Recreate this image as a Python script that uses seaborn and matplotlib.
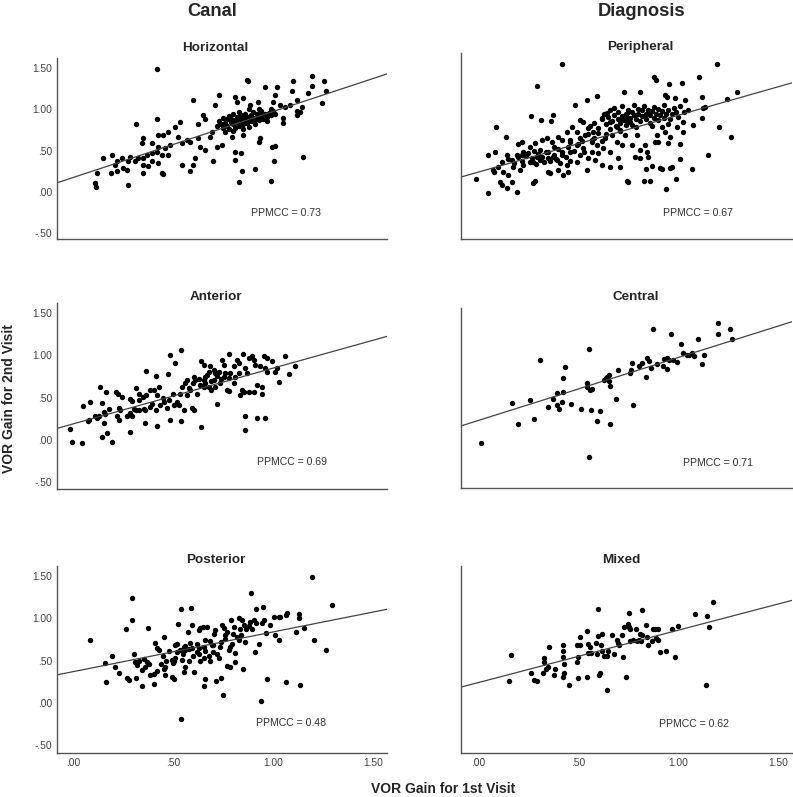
import pandas as pd
import matplotlib.pyplot as plt
import seaborn as sns

sns.set_style("white")
plt.rcParams['font.family'] = ['Liberation Sans', 'DejaVu Sans']

# (1st visit, 2nd visit) pairs
horizontal_pts = [
    (0.42, 1.49), (0.60, 1.12), (0.732, 1.18), (0.71, 1.05), (0.652, 0.93), (0.66, 0.89), (0.627, 0.83),
    (0.42, 0.89), (0.315, 0.83), (0.535, 0.85), (0.51, 0.79), (0.477, 0.73), (0.452, 0.69), (0.427, 0.69),
    (0.352, 0.65), (0.343, 0.59), (0.393, 0.59), (0.427, 0.55), (0.46, 0.53), (0.485, 0.57), (0.527, 0.67),
    (0.543, 0.59), (0.568, 0.63), (0.585, 0.61), (0.627, 0.65), (0.635, 0.55), (0.66, 0.51), (0.685, 0.67),
    (0.693, 0.73), (0.718, 0.55), (0.743, 0.57), (0.702, 0.37), (0.61, 0.41), (0.602, 0.33), (0.585, 0.25),
    (0.543, 0.33), (0.477, 0.45), (0.443, 0.45), (0.418, 0.49), (0.393, 0.47), (0.368, 0.45), (0.352, 0.41),
    (0.327, 0.41), (0.31, 0.37), (0.285, 0.43), (0.277, 0.37), (0.243, 0.41), (0.218, 0.37), (0.197, 0.45),
    (0.148, 0.41), (0.21, 0.33), (0.252, 0.29), (0.268, 0.27), (0.218, 0.25), (0.188, 0.23), (0.118, 0.23),
    (0.11, 0.105), (0.115, 0.065), (0.277, 0.09), (0.352, 0.33), (0.377, 0.31), (0.393, 0.37), (0.427, 0.35),
    (0.443, 0.23), (0.452, 0.22), (0.352, 0.23),
    (1.10, 1.345), (1.193, 1.41), (1.257, 1.345), (1.097, 1.228), (1.193, 1.29), (1.265, 1.225), (1.177, 1.196),
    (1.118, 1.115), (1.243, 1.075), (1.143, 1.035), (1.118, 0.982), (1.085, 1.055), (1.06, 1.035), (1.035, 1.055),
    (1.002, 1.095), (0.988, 1.005), (1.052, 0.893), (1.052, 0.832), (1.118, 0.933), (1.135, 0.974), (1.01, 1.176),
    (0.96, 1.277), (1.018, 1.27), (0.81, 1.155), (0.868, 1.357), (0.877, 1.345), (0.927, 1.095), (0.885, 1.055),
    (0.852, 1.135), (0.818, 1.095), (0.935, 0.65), (0.932, 0.60), (0.852, 0.69), (0.793, 0.67), (0.993, 0.55),
    (1.01, 0.56), (1.007, 0.375), (1.148, 0.428), (0.81, 0.489), (0.84, 0.469), (0.81, 0.388), (0.843, 0.255),
    (0.91, 0.279), (0.832, 0.125), (0.988, 0.137),
    (0.72, 0.80), (0.73, 0.86), (0.74, 0.83), (0.75, 0.90), (0.75, 0.78), (0.76, 0.84), (0.77, 0.88), (0.77, 0.80),
    (0.78, 0.92), (0.78, 0.76), (0.79, 0.85), (0.79, 0.89), (0.80, 0.82), (0.80, 0.95), (0.81, 0.87), (0.81, 0.78),
    (0.82, 0.91), (0.82, 0.84), (0.83, 0.88), (0.83, 0.80), (0.84, 0.93), (0.84, 0.86), (0.85, 0.90), (0.85, 0.82),
    (0.86, 0.95), (0.86, 0.87), (0.87, 0.84), (0.87, 0.91), (0.88, 0.89), (0.88, 0.79), (0.89, 0.93), (0.89, 0.86),
    (0.90, 0.90), (0.90, 0.97), (0.91, 0.88), (0.91, 0.83), (0.92, 0.94), (0.92, 0.90), (0.93, 0.87), (0.94, 0.92),
    (0.94, 0.98), (0.95, 0.89), (0.96, 0.94), (0.97, 0.91), (0.97, 0.86), (0.98, 0.96), (0.99, 0.93), (1.00, 0.98),
    (1.01, 0.95), (0.80, 0.74), (0.85, 0.76), (0.76, 0.73), (0.83, 0.97), (0.88, 1.00), (0.93, 1.01),
]

peripheral_pts = [
    (0.42, 1.547), (0.297, 1.289), (0.73, 1.216), (0.593, 1.168), (0.543, 1.115), (0.485, 1.055), (0.265, 0.921),
    (0.315, 0.873), (0.365, 0.865), (0.373, 0.933), (0.09, 0.792), (0.138, 0.67), (0.218, 0.602), (0.202, 0.578),
    (0.048, 0.448), (0.085, 0.481), (-0.01, 0.154), (0.048, -0.008), (0.197, 0.004), (0.11, 0.125), (0.12, 0.085),
    (0.168, 0.117), (0.143, 0.053), (0.277, 0.105), (0.285, 0.133), (0.077, 0.267), (0.08, 0.238), (0.127, 0.246),
    (0.152, 0.206), (0.102, 0.307), (0.118, 0.368), (0.143, 0.448), (0.168, 0.388), (0.177, 0.307), (0.21, 0.267),
    (0.227, 0.327), (0.218, 0.448), (0.252, 0.469), (0.277, 0.368), (0.293, 0.428), (0.31, 0.509), (0.318, 0.63),
    (0.343, 0.65), (0.368, 0.61), (0.402, 0.67), (0.418, 0.63), (0.352, 0.488), (0.377, 0.428), (0.352, 0.246),
    (0.36, 0.227), (0.402, 0.267), (0.427, 0.206), (0.452, 0.246), (0.443, 0.327), (0.393, 0.388), (0.418, 0.448),
    (0.46, 0.488), (0.493, 0.368), (0.51, 0.448), (0.543, 0.267), (0.552, 0.408), (0.527, 0.53), (0.493, 0.57),
    (0.46, 0.63), (0.443, 0.731), (0.468, 0.792), (0.493, 0.731), (0.527, 0.852), (0.51, 0.873), (0.552, 0.772),
    (0.577, 0.731), (0.568, 0.63), (0.593, 0.57), (0.602, 0.469), (0.585, 0.388), (0.618, 0.327), (0.66, 0.307),
    (0.702, 0.408), (0.71, 0.307), (0.743, 0.133), (0.618, 0.893), (0.643, 0.953), (0.66, 0.852), (0.693, 0.792),
    (0.71, 0.751), (0.668, 0.691), (0.635, 0.65), (0.693, 0.61), (0.718, 0.57), (0.735, 0.691), (0.743, 0.913),
    (0.752, 0.973), (0.718, 0.873), (0.627, 0.53), (0.66, 0.488), (0.51, 0.65), (0.535, 0.691), (0.568, 0.488),
    (0.26, 0.549), (0.285, 0.59), (0.227, 0.488), (0.193, 0.448),
    (1.197, 1.547), (0.88, 1.398), (0.89, 1.358), (0.957, 1.309), (1.018, 1.317), (1.107, 1.39), (0.81, 1.208),
    (0.935, 1.176), (0.943, 1.155), (0.985, 1.143), (1.118, 1.155), (1.293, 1.208), (1.247, 1.123), (1.035, 1.115),
    (1.127, 1.022), (1.135, 1.026), (1.118, 0.893), (1.077, 0.812), (1.027, 0.731), (1.207, 0.792), (1.265, 0.667),
    (1.01, 0.578), (0.952, 0.59), (0.96, 0.67), (0.902, 0.602), (0.885, 0.61), (0.835, 0.57), (0.81, 0.509),
    (0.843, 0.488), (0.852, 0.428), (0.785, 0.428), (0.81, 0.408), (1.148, 0.448), (1.01, 0.40), (1.068, 0.275),
    (0.868, 0.319), (0.91, 0.295), (0.918, 0.275), (0.96, 0.287), (0.968, 0.307), (0.838, 0.275), (0.752, 0.125),
    (0.83, 0.137), (0.86, 0.137), (0.988, 0.154), (0.938, 0.036), (0.768, 0.57), (0.793, 0.691), (0.768, 0.812),
    (0.752, 0.852), (0.918, 0.792), (0.935, 0.731), (0.893, 0.691), (0.993, 0.792), (1.027, 0.852),
    (0.62, 0.88), (0.63, 0.95), (0.64, 0.82), (0.65, 0.91), (0.66, 0.99), (0.67, 0.86), (0.68, 0.93), (0.68, 1.02),
    (0.69, 0.80), (0.70, 0.89), (0.70, 0.97), (0.71, 0.84), (0.72, 0.92), (0.72, 1.04), (0.73, 0.87), (0.74, 0.95),
    (0.74, 0.81), (0.75, 1.00), (0.76, 0.90), (0.76, 0.85), (0.77, 0.97), (0.78, 0.93), (0.78, 1.06), (0.79, 0.88),
    (0.80, 0.95), (0.80, 1.01), (0.81, 0.86), (0.82, 0.92), (0.82, 0.99), (0.83, 1.04), (0.84, 0.89), (0.84, 0.95),
    (0.85, 1.00), (0.86, 0.84), (0.86, 0.93), (0.87, 0.98), (0.88, 1.03), (0.88, 0.90), (0.89, 0.95), (0.90, 0.87),
    (0.90, 1.01), (0.91, 0.93), (0.92, 0.98), (0.93, 1.05), (0.93, 0.90), (0.94, 0.95), (0.95, 1.00), (0.96, 0.88),
    (0.97, 0.94), (0.98, 1.02), (0.99, 0.97), (1.00, 0.91), (1.01, 1.04), (1.03, 0.97), (1.05, 1.00), (0.58, 0.84),
    (0.60, 0.78), (0.56, 0.80), (0.66, 0.76), (0.71, 0.74), (0.79, 0.79), (0.87, 0.80), (0.95, 0.82),
    (0.15, 0.40), (0.18, 0.35), (0.20, 0.42), (0.22, 0.38), (0.24, 0.44), (0.26, 0.36), (0.27, 0.41), (0.29, 0.34),
    (0.30, 0.46), (0.31, 0.39), (0.32, 0.43), (0.33, 0.36), (0.34, 0.48), (0.35, 0.41), (0.36, 0.37), (0.38, 0.45),
    (0.39, 0.40), (0.40, 0.52), (0.41, 0.35), (0.42, 0.48), (0.44, 0.42), (0.45, 0.55), (0.46, 0.38), (0.48, 0.50),
    (0.50, 0.58), (0.52, 0.62), (0.53, 0.48), (0.55, 0.70), (0.57, 0.60), (0.58, 0.66), (0.60, 0.72), (0.62, 0.62),
    (0.64, 0.70), (0.46, 0.60), (0.38, 0.55), (0.28, 0.50),
]

anterior_pts = [
    (0.54, 1.07), (0.483, 1.01), (0.512, 0.91), (0.365, 0.82), (0.415, 0.76), (0.473, 0.78), (0.137, 0.63),
    (0.167, 0.57), (0.217, 0.57), (0.225, 0.54), (0.315, 0.62), (0.328, 0.55), (0.387, 0.59), (0.403, 0.59),
    (0.428, 0.63), (0.367, 0.53), (0.245, 0.51), (0.283, 0.48), (0.295, 0.46), (0.328, 0.47), (0.35, 0.51),
    (0.42, 0.53), (0.45, 0.50), (0.453, 0.45), (0.478, 0.47), (0.50, 0.55), (0.47, 0.38), (0.503, 0.41),
    (0.437, 0.41), (0.417, 0.36), (0.395, 0.42), (0.383, 0.39), (0.353, 0.37), (0.362, 0.35), (0.328, 0.36),
    (0.303, 0.37), (0.317, 0.36), (0.287, 0.32), (0.295, 0.28), (0.27, 0.28), (0.237, 0.35), (0.228, 0.38),
    (0.22, 0.28), (0.228, 0.24), (0.178, 0.37), (0.153, 0.33), (0.162, 0.31), (0.128, 0.28), (0.112, 0.28),
    (0.12, 0.26), (0.087, 0.45), (0.05, 0.40), (0.078, 0.24), (0.073, 0.22), (0.145, 0.44), (0.153, 0.20),
    (0.17, 0.08), (0.145, 0.03), (0.195, -0.02), (-0.005, -0.02), (0.045, -0.03), (-0.013, 0.13), (0.287, 0.10),
    (0.362, 0.20), (0.42, 0.17), (0.487, 0.24), (0.542, 0.23), (0.603, 0.36), (0.595, 0.38), (0.553, 0.36),
    (0.528, 0.41), (0.52, 0.45), (0.57, 0.53), (0.537, 0.55), (0.545, 0.63), (0.562, 0.67), (0.57, 0.71),
    (0.603, 0.75), (0.612, 0.71), (0.62, 0.55), (0.642, 0.15), (0.72, 0.43), (0.653, 0.71), (0.662, 0.67),
    (0.64, 0.93), (0.653, 0.89), (0.687, 0.87), (0.703, 0.83), (0.712, 0.79), (0.67, 0.77), (0.678, 0.81),
    (0.637, 0.65), (0.653, 0.63), (0.678, 0.63), (0.69, 0.59), (0.712, 0.63), (0.737, 0.67), (0.753, 0.75),
    (0.762, 0.79), (0.728, 0.81), (0.745, 0.95), (0.753, 0.89), (0.782, 1.02), (0.803, 0.87), (0.787, 0.79),
    (0.778, 0.73), (0.77, 0.59), (0.778, 0.58), (0.803, 0.67), (0.812, 0.75), (0.837, 0.53), (0.845, 0.59),
    (0.853, 0.57), (0.82, 0.95), (0.828, 0.91), (0.85, 1.02), (0.862, 0.85), (0.87, 0.79), (0.878, 0.97),
    (0.895, 0.99), (0.903, 0.95), (0.862, 0.28), (0.858, 0.12), (0.878, 0.57), (0.903, 0.57), (0.92, 0.26),
    (0.92, 0.65), (0.945, 0.63), (0.945, 0.55), (0.962, 0.26), (0.912, 0.89), (0.937, 0.87), (0.953, 0.99),
    (0.97, 0.97), (0.962, 0.85), (0.97, 0.81), (0.995, 0.93), (1.012, 0.81), (1.028, 0.69), (1.02, 0.85),
    (1.058, 0.99), (1.078, 0.78), (1.108, 0.88), (0.828, 0.79), (0.587, 0.59), (0.703, 0.71),
    (0.60, 0.68), (0.63, 0.72), (0.66, 0.75), (0.69, 0.70), (0.72, 0.76), (0.74, 0.72), (0.58, 0.62),
]

central_pts = [
    (0.015, -0.04), (0.172, 0.44), (0.202, 0.19), (0.26, 0.47), (0.28, 0.25), (0.31, 0.95), (0.348, 0.39),
    (0.377, 0.48), (0.397, 0.56), (0.393, 0.42), (0.407, 0.37), (0.418, 0.45), (0.423, 0.57), (0.427, 0.73),
    (0.435, 0.86), (0.465, 0.43), (0.515, 0.37), (0.543, 0.68), (0.543, 0.63), (0.553, 1.08), (0.553, -0.20),
    (0.56, 0.59), (0.572, 0.60), (0.563, 0.36), (0.593, 0.22), (0.612, 0.34), (0.63, 0.71), (0.638, 0.73),
    (0.647, 0.75), (0.657, 0.77), (0.657, 0.70), (0.66, 0.64), (0.66, 0.19), (0.69, 0.49), (0.702, 0.83),
    (0.76, 0.79), (0.763, 0.83), (0.768, 0.91), (0.777, 0.41), (0.807, 0.87), (0.818, 0.91), (0.838, 0.74),
    (0.847, 0.97), (0.857, 0.94), (0.863, 0.85), (0.877, 1.31), (0.897, 0.90), (0.927, 0.87), (0.93, 0.96),
    (0.943, 0.84), (0.947, 0.97), (0.957, 0.95), (0.965, 1.25), (0.977, 0.95), (0.993, 0.92), (1.015, 1.14),
    (1.023, 1.03), (1.043, 1.01), (1.057, 1.00), (1.072, 1.03), (1.08, 0.99), (1.102, 1.19), (1.122, 0.90),
    (1.13, 1.01), (1.198, 1.38), (1.202, 1.26), (1.26, 1.31), (1.268, 1.19),
]

posterior_pts = [
    (1.195, 1.49), (0.89, 1.30), (0.295, 1.24), (1.295, 1.16), (0.542, 1.11), (0.592, 1.12), (0.915, 1.11),
    (0.948, 1.14), (0.295, 0.98), (0.265, 0.88), (0.375, 0.89), (0.087, 0.75), (1.207, 0.75), (1.267, 0.63),
    (0.523, 0.93), (0.453, 0.78), (0.412, 0.71), (0.42, 0.65), (0.428, 0.63), (0.195, 0.56), (0.158, 0.47),
    (0.208, 0.42), (0.228, 0.35), (0.167, 0.25), (0.27, 0.29), (0.278, 0.27), (0.307, 0.58), (0.312, 0.48),
    (0.32, 0.45), (0.328, 0.50), (0.345, 0.39), (0.357, 0.52), (0.37, 0.49), (0.345, 0.20), (0.315, 0.30),
    (0.387, 0.33), (0.403, 0.34), (0.403, 0.23), (0.453, 0.40), (0.462, 0.42), (0.467, 0.50), (0.495, 0.31),
    (0.503, 0.28), (0.495, 0.51), (0.512, 0.69), (0.52, 0.70), (0.537, 0.63), (0.503, 0.50), (0.512, 0.53),
    (0.545, 0.51), (0.553, 0.37), (0.562, 0.43), (0.553, 0.66), (0.562, 0.63), (0.573, 0.84), (0.595, 0.92),
    (0.587, 0.71), (0.595, 0.65), (0.603, 0.37), (0.62, 0.60), (0.628, 0.65), (0.628, 0.86), (0.637, 0.89),
    (0.65, 0.90), (0.67, 0.90), (0.637, 0.50), (0.653, 0.53), (0.653, 0.66), (0.662, 0.28), (0.653, 0.20),
    (0.678, 0.55), (0.687, 0.50), (0.687, 0.73), (0.695, 0.69), (0.703, 0.82), (0.712, 0.86), (0.717, 0.26),
    (0.74, 0.30), (0.75, 0.09), (0.728, 0.53), (0.72, 0.58), (0.737, 0.66), (0.745, 0.92), (0.753, 0.89),
    (0.762, 0.76), (0.77, 0.84), (0.77, 0.44), (0.787, 0.42), (0.778, 0.63), (0.787, 0.66), (0.795, 0.70),
    (0.79, 0.98), (0.803, 0.90), (0.812, 0.59), (0.812, 0.49), (0.82, 0.78), (0.828, 0.74), (0.828, 1.00),
    (0.845, 0.98), (0.85, 0.40), (0.837, 0.87), (0.853, 0.92), (0.867, 0.88), (0.878, 0.91), (0.887, 0.96),
    (0.903, 0.98), (0.917, 0.94), (0.912, 0.60), (0.928, 0.70), (0.94, 0.02), (0.945, 0.94), (0.953, 0.98),
    (0.967, 0.83), (0.97, 0.28), (0.987, 0.92), (1.003, 1.02), (1.012, 0.80), (1.028, 0.75), (1.028, 1.02),
    (1.037, 1.02), (1.067, 1.04), (1.07, 1.06), (1.067, 0.25), (1.117, 0.84), (1.128, 1.05), (1.128, 1.00),
    (1.137, 0.21), (1.157, 0.89), (0.895, 0.88), (0.542, -0.19),
    (0.45, 0.55), (0.48, 0.62), (0.52, 0.60), (0.55, 0.58), (0.58, 0.64), (0.60, 0.55), (0.62, 0.70),
    (0.66, 0.62), (0.70, 0.60), (0.74, 0.72), (0.76, 0.80), (0.80, 0.82), (0.84, 0.80), (0.86, 0.72),
    (0.58, 0.50), (0.50, 0.47), (0.44, 0.46), (0.66, 0.74), (0.70, 0.68), (0.63, 0.58), (0.56, 0.67),
    (0.38, 0.46), (0.36, 0.42), (0.42, 0.38), (0.46, 0.33),
]

mixed_pts = [
    (0.155, 0.26), (0.165, 0.57), (0.265, 0.35), (0.282, 0.27), (0.293, 0.26), (0.323, 0.36), (0.332, 0.53),
    (0.332, 0.48), (0.34, 0.40), (0.348, 0.43), (0.355, 0.66), (0.382, 0.33), (0.385, 0.40), (0.423, 0.68),
    (0.423, 0.62), (0.423, 0.54), (0.427, 0.31), (0.432, 0.35), (0.432, 0.46), (0.455, 0.21), (0.493, 0.68),
    (0.51, 0.68), (0.493, 0.48), (0.502, 0.54), (0.502, 0.29), (0.51, 0.78), (0.543, 0.85), (0.543, 0.31),
    (0.552, 0.70), (0.56, 0.66), (0.552, 0.59), (0.565, 0.59), (0.59, 0.71), (0.593, 0.58), (0.602, 1.11),
    (0.602, 0.79), (0.603, 0.33), (0.61, 0.35), (0.613, 0.68), (0.618, 0.82), (0.618, 0.62), (0.63, 0.55),
    (0.643, 0.55), (0.643, 0.15), (0.652, 0.62), (0.672, 0.80), (0.682, 0.58), (0.693, 0.75), (0.702, 0.71),
    (0.707, 0.68), (0.718, 0.80), (0.723, 0.54), (0.73, 0.90), (0.74, 0.31), (0.748, 0.93), (0.757, 0.90),
    (0.757, 1.06), (0.76, 0.88), (0.76, 0.73), (0.777, 0.74), (0.79, 0.88), (0.793, 0.73), (0.807, 0.74),
    (0.813, 0.73), (0.81, 0.82), (0.818, 0.80), (0.82, 1.10), (0.84, 0.92), (0.843, 0.78), (0.848, 0.68),
    (0.868, 0.73), (0.877, 0.87), (0.885, 0.87), (0.902, 0.88), (0.89, 0.77), (0.898, 0.75), (0.91, 0.60),
    (0.938, 0.61), (0.968, 0.88), (0.987, 0.54), (0.998, 0.91), (1.087, 1.05), (1.138, 0.21), (1.147, 1.03),
    (1.157, 0.90), (1.177, 1.19),
]

# row by row: left column = Canal, right column = Diagnosis
panel_names = ["Horizontal", "Peripheral", "Anterior", "Central", "Posterior", "Mixed"]
panel_pts = [horizontal_pts, peripheral_pts, anterior_pts, central_pts, posterior_pts, mixed_pts]
ppmcc = [0.73, 0.67, 0.69, 0.71, 0.48, 0.62]
fit_intercept = [0.175, 0.24, 0.19, 0.23, 0.37, 0.24]
fit_slope = [0.80, 0.69, 0.66, 0.745, 0.47, 0.62]
column_titles = ["Canal", "Diagnosis"]
x_ticks = [0.0, 0.5, 1.0, 1.5]
x_ticklabels = [".00", ".50", "1.00", "1.50"]
y_ticks = [-0.5, 0.0, 0.5, 1.0, 1.5]
y_ticklabels = ["-.50", ".00", ".50", "1.00", "1.50"]

W, H = 793, 797
fig = plt.figure(figsize=(W / 100, H / 100), dpi=100)

# axes boxes in pixels: left, top, right, bottom  + y limits
boxes = [
    (57, 58, 387, 239, (-0.57, 1.624)),
    (461, 53, 792, 239, (-0.57, 1.685)),
    (57, 303, 387, 489, (-0.58, 1.621)),
    (461, 308, 792, 488, (-0.568, 1.562)),
    (57, 566, 387, 753, (-0.592, 1.62)),
    (461, 566, 792, 753, (-0.592, 1.62)),
]
title_px = [(215, 48), (640, 47), (216, 297), (636, 297), (216, 560), (621, 560)]
ppmcc_xy = [(0.89, -0.25), (0.925, -0.25), (0.92, -0.26), (1.025, -0.27), (0.915, -0.24), (0.905, -0.25)]

for i, name in enumerate(panel_names):
    l, t, r, b, ylim = boxes[i]
    ax = fig.add_axes([l / W, 1 - b / H, (r - l) / W, (b - t) / H])
    df = pd.DataFrame(panel_pts[i], columns=["first", "second"])
    sns.scatterplot(data=df, x="first", y="second", ax=ax, color="black",
                    s=15, linewidth=0, legend=False)
    ax.axline((0, fit_intercept[i]), slope=fit_slope[i], color="#444444", lw=0.9)

    ax.set_xlim(-0.08 if i % 2 == 0 else -0.085, 1.57)
    ax.set_ylim(*ylim)
    ax.set_xlabel("")
    ax.set_ylabel("")
    sns.despine(ax=ax)
    for sp in ["left", "bottom"]:
        ax.spines[sp].set_color("#555555")
        ax.spines[sp].set_linewidth(1.0)

    ax.set_yticks(y_ticks)
    ax.set_xticks(x_ticks)
    if i % 2 == 0:
        ax.set_yticklabels(y_ticklabels)
    else:
        ax.set_yticklabels([])
    if i >= 4:
        ax.set_xticklabels(x_ticklabels)
    else:
        ax.set_xticklabels([])
    ax.tick_params(length=0, pad=3.5, labelsize=7.4, labelcolor="#444444")

    ax.text(ppmcc_xy[i][0], ppmcc_xy[i][1], f"PPMCC = {ppmcc[i]:.2f}",
            fontsize=7.6, color="#333333", ha="left", va="center")
    fig.text(title_px[i][0] / W, 1 - title_px[i][1] / H, name,
             fontsize=9.7, fontweight="bold", ha="center", va="center")

fig.text(212 / W, 1 - 12 / H, column_titles[0], fontsize=13.2, fontweight="bold",
         ha="center", va="center")
fig.text(642 / W, 1 - 12 / H, column_titles[1], fontsize=13.2, fontweight="bold",
         ha="center", va="center")
fig.text(9 / W, 1 - 399 / H, "VOR Gain for 2nd Visit", fontsize=10, fontweight="bold",
         rotation=90, ha="center", va="center")
fig.text(443 / W, 1 - 789 / H, "VOR Gain for 1st Visit", fontsize=10, fontweight="bold",
         ha="center", va="center")

fig.savefig("out.png", dpi=100)
